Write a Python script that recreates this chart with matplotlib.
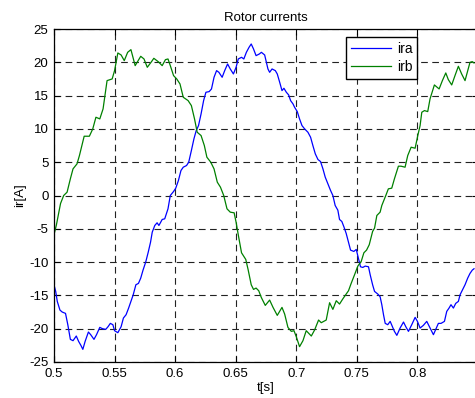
import matplotlib
matplotlib.use("Agg")
import matplotlib.pyplot as plt

plt.rcParams['font.family'] = ['Liberation Sans', 'DejaVu Sans']
plt.rcParams['axes.unicode_minus'] = False

t_ira = [0.5, 0.5014, 0.5027, 0.5049, 0.5068, 0.5095, 0.5114, 0.5135, 0.5157, 0.5184,
         0.5203, 0.5222, 0.5238, 0.5257, 0.5284, 0.5303, 0.533, 0.5351, 0.5378, 0.54,
         0.5427, 0.5446, 0.5465, 0.5486, 0.55, 0.5527, 0.5554, 0.5573, 0.5595, 0.5616,
         0.5635, 0.5654, 0.5676, 0.5697, 0.5716, 0.5735, 0.5757, 0.5778, 0.5797, 0.5811,
         0.5832, 0.5851, 0.5866, 0.5893, 0.5914, 0.5941, 0.596, 0.5987, 0.6005, 0.6027,
         0.6048, 0.6067, 0.6094, 0.6112, 0.6134, 0.6155, 0.6174, 0.6193, 0.6214, 0.6235,
         0.6254, 0.6281, 0.63, 0.6321, 0.6342, 0.6361, 0.6388, 0.6409, 0.6433, 0.6455,
         0.6481, 0.6503, 0.6521, 0.6548, 0.6567, 0.6588, 0.661, 0.6628, 0.6647, 0.6668,
         0.6695, 0.6712, 0.6739, 0.6753, 0.6766, 0.678, 0.68, 0.6827, 0.6843, 0.6863,
         0.6882, 0.6898, 0.6918, 0.6937, 0.6953, 0.6973, 0.6986, 0.7008, 0.7027, 0.7047,
         0.7069, 0.7096, 0.7118, 0.7137, 0.7157, 0.7179, 0.72, 0.722, 0.7239, 0.7261,
         0.7283, 0.7302, 0.7321, 0.7343, 0.7357, 0.7376, 0.7393, 0.7412, 0.7431, 0.7448,
         0.7475, 0.7495, 0.7514, 0.753, 0.7549, 0.7569, 0.7596, 0.761, 0.763, 0.7646,
         0.7673, 0.7692, 0.7706, 0.772, 0.7734, 0.7755, 0.7775, 0.7794, 0.781, 0.783,
         0.7857, 0.7885, 0.7904, 0.7926, 0.7953, 0.7981, 0.8, 0.8022, 0.8049, 0.8077,
         0.8104, 0.8132, 0.8151, 0.8173, 0.8195, 0.8223, 0.8242, 0.8261, 0.8277, 0.8297,
         0.8316, 0.8338, 0.8352, 0.8371, 0.8393, 0.8415, 0.8434, 0.8453, 0.8467]
ira = [-13.4, -14.4, -15.9, -17.2, -17.5, -17.7, -19.4, -21.6, -21.8, -21.1,
       -21.9, -22.5, -23.1, -21.9, -20.5, -20.9, -21.6, -20.9, -19.8, -20.0,
       -20.1, -19.7, -19.2, -19.4, -20.3, -20.6, -19.7, -18.4, -17.9, -16.9,
       -15.9, -14.9, -13.4, -13.2, -12.4, -11.2, -10.0, -8.5, -7.0, -5.5,
       -4.5, -4.1, -4.5, -3.6, -3.5, -2.0, 0.0, 0.6, 1.1, 2.25,
       3.75, 4.25, 4.5, 5.0, 6.75, 8.5, 9.75, 10.5, 12.25, 14.25,
       15.5, 15.6, 16.0, 17.75, 18.75, 18.5, 17.75, 18.75, 19.75, 19.0,
       18.25, 19.25, 20.5, 20.75, 20.5, 21.5, 22.25, 22.75, 22.0, 21.0,
       21.25, 21.5, 21.1, 20.0, 19.0, 18.5, 19.0, 18.75, 18.25, 17.0,
       15.75, 16.1, 15.5, 15.1, 14.25, 13.75, 13.25, 12.6, 11.5, 10.5,
       10.0, 9.5, 8.75, 7.5, 6.25, 5.4, 5.1, 4.0, 2.75, 1.75,
       0.75, 0.0, -1.5, -2.2, -3.6, -3.9, -4.7, -5.7, -7.0, -8.2,
       -8.4, -8.1, -9.5, -10.7, -10.8, -10.6, -10.7, -11.9, -13.4, -14.4,
       -14.8, -15.2, -16.4, -17.9, -19.2, -19.4, -18.9, -19.7, -20.4, -21.0,
       -19.9, -19.0, -19.7, -20.4, -19.4, -18.3, -18.9, -19.9, -19.5, -18.9,
       -19.9, -20.9, -20.1, -19.2, -19.2, -18.9, -17.4, -16.9, -16.4, -16.9,
       -16.2, -15.9, -14.9, -14.2, -13.4, -12.4, -11.7, -11.2, -11.0]

t_irb = [0.5, 0.502, 0.5038, 0.5054, 0.508, 0.5108, 0.5135, 0.5157, 0.519, 0.521,
         0.5249, 0.5292, 0.532, 0.5346, 0.5378, 0.5405, 0.5438, 0.548, 0.55, 0.5527,
         0.5554, 0.558, 0.5608, 0.5635, 0.567, 0.5716, 0.5743, 0.577, 0.5805, 0.5824,
         0.586, 0.5893, 0.592, 0.5941, 0.596, 0.5987, 0.6013, 0.604, 0.6067, 0.6107,
         0.6134, 0.616, 0.6182, 0.6214, 0.6241, 0.6262, 0.6294, 0.6321, 0.6348, 0.6374,
         0.6401, 0.6428, 0.6455, 0.6487, 0.6503, 0.6521, 0.6548, 0.6583, 0.6602, 0.6628,
         0.6647, 0.6668, 0.669, 0.6711, 0.6744, 0.678, 0.6808, 0.6843, 0.6882, 0.6904,
         0.6931, 0.6959, 0.6981, 0.7, 0.7027, 0.7055, 0.7082, 0.7124, 0.7151, 0.7184,
         0.7206, 0.7247, 0.7275, 0.7302, 0.733, 0.7357, 0.7385, 0.7412, 0.7431, 0.7453,
         0.7481, 0.7508, 0.7536, 0.7558, 0.758, 0.7602, 0.763, 0.7646, 0.7665, 0.7692,
         0.7706, 0.7728, 0.7739, 0.776, 0.7788, 0.781, 0.7843, 0.7865, 0.7898, 0.792,
         0.7948, 0.7981, 0.8003, 0.8022, 0.8036, 0.8058, 0.8085, 0.8104, 0.814, 0.8179,
         0.8206, 0.8234, 0.8255, 0.8283, 0.831, 0.8338, 0.8365, 0.8393, 0.8415, 0.8434,
         0.8453, 0.8467]
irb = [-5.9, -4.4, -2.7, -1.2, 0.0, 0.5, 2.5, 4.0, 4.75, 6.0,
       8.9, 8.9, 10.0, 11.75, 11.5, 13.0, 17.25, 17.5, 18.75, 21.4,
       21.1, 20.25, 21.5, 21.9, 19.5, 20.9, 20.5, 19.25, 20.1, 20.6,
       20.1, 19.5, 20.4, 20.5, 19.5, 18.0, 17.5, 16.75, 14.75, 14.25,
       13.5, 11.5, 9.5, 9.0, 7.5, 5.75, 5.0, 4.0, 2.0, 1.25,
       0.0, -2.0, -2.5, -2.6, -4.0, -5.9, -8.6, -9.6, -11.1, -13.4,
       -14.1, -13.9, -14.3, -15.3, -16.5, -15.7, -16.8, -18.0, -16.8, -17.8,
       -19.8, -20.4, -20.3, -21.2, -22.7, -21.8, -20.3, -21.1, -20.2, -18.7,
       -19.1, -18.7, -16.1, -17.1, -15.8, -16.3, -15.5, -14.8, -14.3, -13.2,
       -11.9, -10.6, -9.9, -8.6, -8.2, -7.4, -5.4, -4.9, -3.0, -2.5,
       -1.5, -0.5, 0.0, 1.0, 1.1, 2.5, 4.4, 4.4, 4.25, 6.0,
       7.25, 7.1, 9.0, 10.5, 12.5, 12.75, 12.6, 14.5, 16.6, 16.0,
       17.25, 18.4, 17.4, 16.6, 18.0, 19.4, 18.25, 17.25, 18.75, 20.0,
       20.1, 19.9]

x_ticks = [0.5, 0.55, 0.6, 0.65, 0.7, 0.75, 0.8, 0.85]
x_ticklabels = ['0.5', '0.55', '0.6', '0.65', '0.7', '0.75', '0.8', '']
y_ticks = [-25, -20, -15, -10, -5, 0, 5, 10, 15, 20, 25]

fig = plt.figure(figsize=(4.75, 3.98), dpi=100)
ax = fig.add_axes([54/475, 1-362/398, (478-54)/475, 333/398])

ax.plot(t_ira, ira, color='#0000ff', lw=0.9, label='ira')
ax.plot(t_irb, irb, color='#008000', lw=0.9, label='irb')

ax.set_xlim(0.5, 0.85)
ax.set_ylim(-25, 25)
ax.set_xticks(x_ticks)
ax.set_yticks(y_ticks)
ax.set_xticklabels(x_ticklabels)
ax.tick_params(direction='in', top=True, right=True, labelsize=9.5, length=4, width=0.8, pad=4)
ax.grid(True, color='#222222', linestyle=(0, (6, 4)), linewidth=0.8)
for s in ax.spines.values():
    s.set_linewidth(0.9)
    s.set_color('black')

ax.set_title('Rotor currents', fontsize=9.5, pad=6)
ax.set_xlabel('t[s]', fontsize=9.5, labelpad=2)
ax.set_ylabel('ir[A]', fontsize=9.5, labelpad=2)

leg = ax.legend(loc='upper left', bbox_to_anchor=(0.689, 0.976), fontsize=10,
                fancybox=False, framealpha=1, edgecolor='black', borderaxespad=0,
                handlelength=2.9, handletextpad=0.4, borderpad=0.35, labelspacing=0.3)
leg.get_frame().set_linewidth(1.0)

fig.savefig('out.png', dpi=100)
